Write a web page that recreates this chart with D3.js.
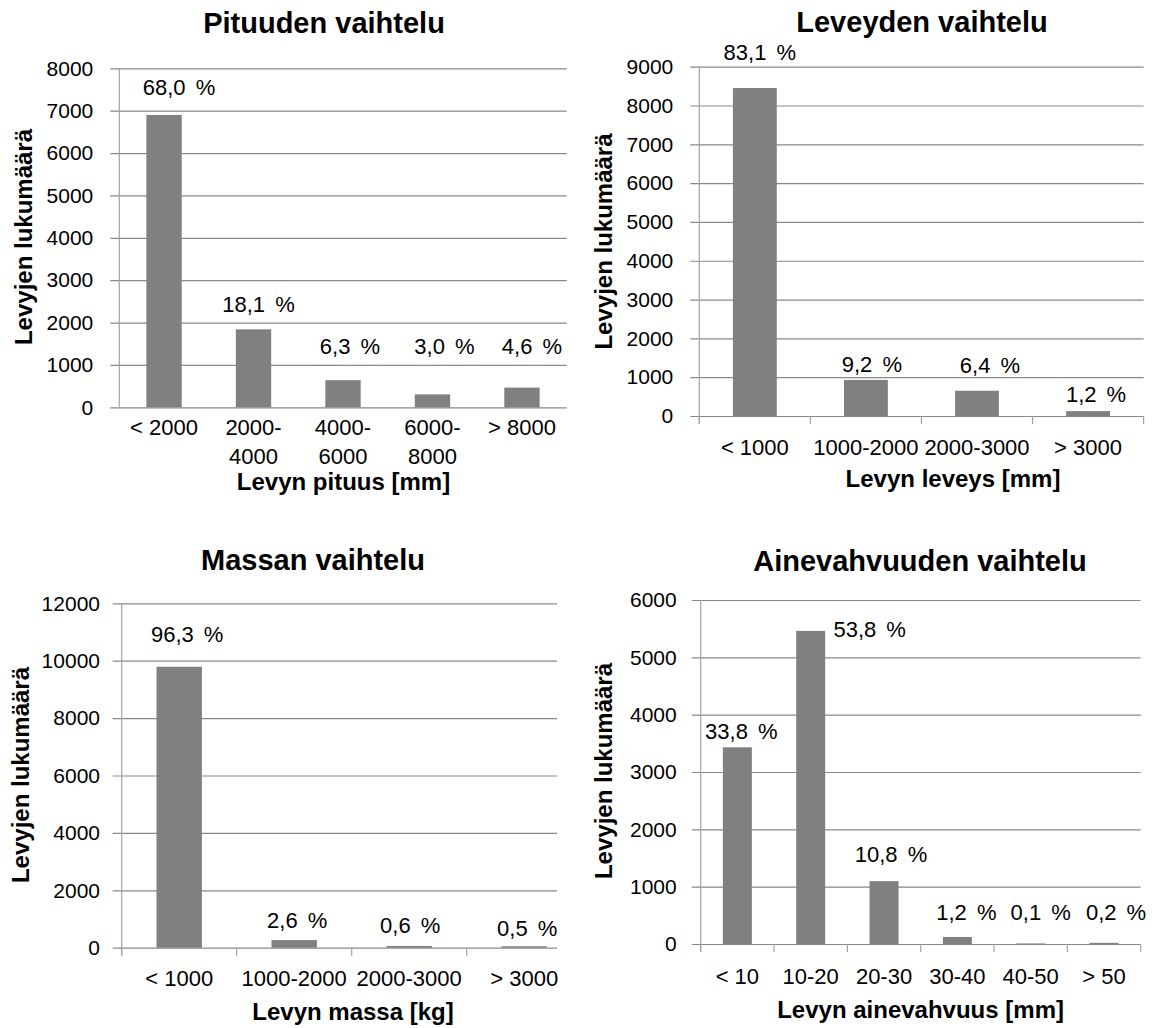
<!DOCTYPE html>
<html>
<head>
<meta charset="utf-8">
<script src="https://cdn.jsdelivr.net/npm/d3@7"></script>
<style>
  body { margin: 0; background: #fff; }
  svg { display: block; font-family: "Liberation Sans", Arial, sans-serif; }
</style>
</head>
<body>
<svg id="chart" width="1158" height="1028"></svg>
<script>
// data
let lengthCats = ["< 2000", "2000-4000", "4000-6000", "6000-8000", "> 8000"];
let lengthCounts = [6900, 1840, 640, 305, 465];
let lengthPct = ["68,0 %", "18,1 %", "6,3 %", "3,0 %", "4,6 %"];
let lengthTicks = [0, 1000, 2000, 3000, 4000, 5000, 6000, 7000, 8000];

let widthCats = ["< 1000", "1000-2000", "2000-3000", "> 3000"];
let widthCounts = [8450, 930, 650, 125];
let widthPct = ["83,1 %", "9,2 %", "6,4 %", "1,2 %"];
let widthTicks = [0, 1000, 2000, 3000, 4000, 5000, 6000, 7000, 8000, 9000];

let massCats = ["< 1000", "1000-2000", "2000-3000", "> 3000"];
let massCounts = [9790, 265, 60, 50];
let massPct = ["96,3 %", "2,6 %", "0,6 %", "0,5 %"];
let massTicks = [0, 2000, 4000, 6000, 8000, 10000, 12000];

let thickCats = ["< 10", "10-20", "20-30", "30-40", "40-50", "> 50"];
let thickCounts = [3431, 5461, 1096, 122, 10, 20];
let thickPct = ["33,8 %", "53,8 %", "10,8 %", "1,2 %", "0,1 %", "0,2 %"];
let thickTicks = [0, 1000, 2000, 3000, 4000, 5000, 6000];

let yTitle = "Levyjen lukumäärä";

// layout of each panel (pixels)
let panels = [
  { cats: lengthCats, vals: lengthCounts, pct: lengthPct, ticks: lengthTicks,
    title: "Pituuden vaihtelu", xTitle: "Levyn pituus [mm]",
    left: 119.3, right: 566.7, top: 68.3, bottom: 407.3, gridRight: 566.7,
    tickPad: 26, catBase: 435, catTicks: false, wrap: true,
    titlePos: [324, 33], xTitlePos: [343.5, 490], yTitlePos: [32, 237],
    nudge: [[15, -20], [5, -17], [7, -26], [12, -40], [10, -34]] },
  { cats: widthCats, vals: widthCounts, pct: widthPct, ticks: widthTicks,
    title: "Leveyden vaihtelu", xTitle: "Levyn leveys [mm]",
    left: 699.3, right: 1143.6, top: 66.7, bottom: 416, gridRight: 1143.6,
    tickPad: 26, catBase: 455, catTicks: true, wrap: false,
    titlePos: [922, 32], xTitlePos: [953, 487], yTitlePos: [612, 241.5],
    nudge: [[5, -28], [6, -8], [13, -18], [8, -9]] },
  { cats: massCats, vals: massCounts, pct: massPct, ticks: massTicks,
    title: "Massan vaihtelu", xTitle: "Levyn massa [kg]",
    left: 121.7, right: 581.7, top: 603.3, bottom: 947.7, gridRight: 557,
    tickPad: 21.7, catBase: 986, catTicks: true, wrap: false,
    titlePos: [313, 570], xTitlePos: [353, 1020], yTitlePos: [28.5, 775],
    nudge: [[8, -25], [3, -12], [1, -13], [3, -10]] },
  { cats: thickCats, vals: thickCounts, pct: thickPct, ticks: thickTicks,
    title: "Ainevahvuuden vaihtelu", xTitle: "Levyn ainevahvuus [mm]",
    left: 700.7, right: 1140.7, top: 600, bottom: 944, gridRight: 1140.7,
    tickPad: 24, catBase: 984, catTicks: true, wrap: false,
    titlePos: [920, 571], xTitlePos: [920.6, 1018], yTitlePos: [612, 771],
    nudge: [[4, -8], [59, 6], [7, -19], [9, -17], [10, -23], [12, -23]] }
];

let svg = d3.select("#chart");
svg.append("rect").attr("width", 1158).attr("height", 1028).attr("fill", "#fff");

panels.forEach(p => {
  let x = d3.scaleBand().domain(p.cats).range([p.left, p.right]).padding(0);
  let y = d3.scaleLinear().domain([0, d3.max(p.ticks)]).range([p.bottom, p.top]);
  let g = svg.append("g");
  let W = p.gridRight - p.left;

  // gridlines + value labels
  let ya = g.append("g")
    .attr("transform", "translate(" + p.left + ",0)")
    .call(d3.axisLeft(y).tickValues(p.ticks).tickFormat(d3.format("d"))
      .tickSize(-W).tickPadding(p.tickPad));
  ya.select(".domain").remove();
  ya.selectAll(".tick line").attr("x1", -9).attr("stroke", "#898989").attr("stroke-width", 1.2);
  ya.selectAll(".tick text").attr("font-size", 21).attr("fill", "#000")
    .attr("font-family", "Liberation Sans, Arial, sans-serif");

  // vertical axis line
  g.append("line")
    .attr("x1", p.left).attr("x2", p.left)
    .attr("y1", p.top).attr("y2", p.catTicks ? p.bottom + 8 : p.bottom)
    .attr("stroke", "#a3a3a3").attr("stroke-width", 1.2);

  // category tick marks at band edges
  if (p.catTicks) {
    let edges = p.cats.map(c => x(c)).concat([p.right]).filter(v => v <= p.gridRight + 1);
    g.selectAll(".ctick").data(edges).enter().append("line")
      .attr("x1", d => d).attr("x2", d => d)
      .attr("y1", p.bottom).attr("y2", p.bottom + 8)
      .attr("stroke", "#a3a3a3").attr("stroke-width", 1.2);
  }

  // bars
  let bw = x.bandwidth() * 0.395;
  g.selectAll(".bar").data(p.vals).enter().append("rect")
    .attr("x", (d, i) => x(p.cats[i]) + x.bandwidth() / 2 - bw / 2)
    .attr("y", d => y(d))
    .attr("width", bw)
    .attr("height", d => p.bottom - y(d))
    .attr("fill", "#808080");

  // percentage labels
  g.selectAll(".pct").data(p.vals).enter().append("text")
    .attr("x", (d, i) => x(p.cats[i]) + x.bandwidth() / 2 + p.nudge[i][0])
    .attr("y", (d, i) => y(d) + p.nudge[i][1])
    .attr("text-anchor", "middle")
    .attr("font-size", 22)
    .attr("word-spacing", 4)
    .text((d, i) => p.pct[i]);

  // category labels
  let cl = g.selectAll(".cat").data(p.cats).enter().append("text")
    .attr("x", d => x(d) + x.bandwidth() / 2)
    .attr("y", p.catBase)
    .attr("text-anchor", "middle")
    .attr("font-size", 22);
  cl.each(function(d) {
    let t = d3.select(this);
    let parts = (p.wrap && d.indexOf("-") > 0) ? [d.split("-")[0] + "-", d.split("-")[1]] : [d];
    parts.forEach((s, k) => {
      t.append("tspan").attr("x", x(d) + x.bandwidth() / 2).attr("dy", k ? 29 : 0).text(s);
    });
  });

  // titles
  g.append("text").attr("x", p.titlePos[0]).attr("y", p.titlePos[1])
    .attr("text-anchor", "middle").attr("font-size", 29).attr("font-weight", "bold")
    .text(p.title);
  g.append("text").attr("x", p.xTitlePos[0]).attr("y", p.xTitlePos[1])
    .attr("text-anchor", "middle").attr("font-size", 24).attr("font-weight", "bold")
    .text(p.xTitle);
  g.append("text")
    .attr("transform", "translate(" + p.yTitlePos[0] + "," + p.yTitlePos[1] + ") rotate(-90)")
    .attr("text-anchor", "middle").attr("font-size", 24).attr("font-weight", "bold")
    .text(yTitle);
});
</script>
</body>
</html>
